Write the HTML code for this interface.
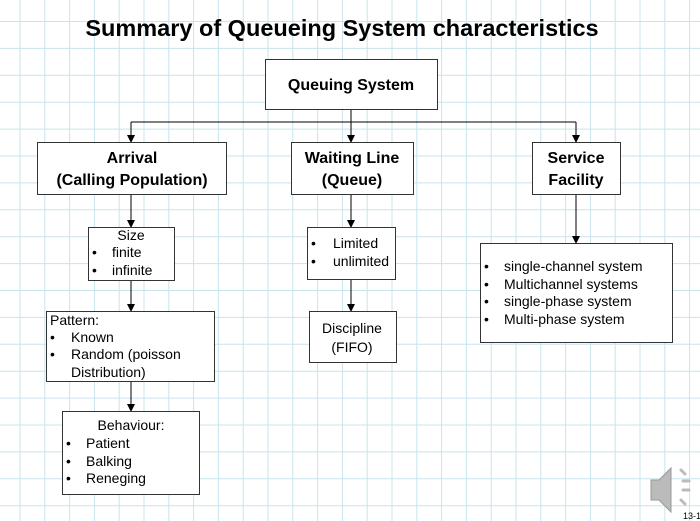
<!DOCTYPE html>
<html><head><meta charset="utf-8"><style>
html,body{margin:0;padding:0;background:#fff}
svg{display:block}
text{font-family:"Liberation Sans",Arial,sans-serif;fill:#000}
</style></head><body>
<svg width="700" height="521" viewBox="0 0 700 521">
<defs><marker id="ah" markerWidth="8" markerHeight="8" refX="7" refY="4" orient="auto" markerUnits="userSpaceOnUse"><path d="M0,0 L8,4 L0,8z" fill="#000"/></marker></defs>
<g id="grid" stroke="#c8e4ee" stroke-width="1"></g>
<text x="342" y="36" font-size="23.5" font-weight="bold" text-anchor="middle">Summary of Queueing System characteristics</text>
<g fill="none" stroke="#000" stroke-width="1">
<line x1="351" y1="109" x2="351" y2="122"/>
<line x1="131" y1="122" x2="576" y2="122"/>
<line x1="131" y1="122" x2="131" y2="142" marker-end="url(#ah)"/>
<line x1="351" y1="122" x2="351" y2="142" marker-end="url(#ah)"/>
<line x1="576" y1="122" x2="576" y2="142" marker-end="url(#ah)"/>
<line x1="131" y1="194" x2="131" y2="227" marker-end="url(#ah)"/>
<line x1="351" y1="194" x2="351" y2="227" marker-end="url(#ah)"/>
<line x1="576" y1="194" x2="576" y2="243" marker-end="url(#ah)"/>
<line x1="131" y1="280" x2="131" y2="311" marker-end="url(#ah)"/>
<line x1="351" y1="279" x2="351" y2="311" marker-end="url(#ah)"/>
<line x1="131" y1="381" x2="131" y2="411" marker-end="url(#ah)"/>
</g>
<g fill="#fff" stroke="#333" stroke-width="1">
<rect x="265.5" y="59.5" width="172" height="50"/>
<rect x="37.5" y="142.5" width="189" height="52"/>
<rect x="291.5" y="142.5" width="122" height="52"/>
<rect x="532.5" y="142.5" width="88" height="52"/>
<rect x="88.5" y="227.5" width="86" height="53"/>
<rect x="307.5" y="227.5" width="88" height="52"/>
<rect x="480.5" y="243.5" width="192" height="99"/>
<rect x="46.5" y="311.5" width="168" height="70"/>
<rect x="309.5" y="311.5" width="87" height="51"/>
<rect x="62.5" y="411.5" width="137" height="83"/>
</g>
<g font-size="16" font-weight="bold" text-anchor="middle">
<text x="132" y="163">Arrival</text>
<text x="132" y="185">(Calling Population)</text>
<text x="351" y="90">Queuing System</text>
<text x="352" y="163">Waiting Line</text>
<text x="352" y="185">(Queue)</text>
<text x="576" y="163">Service</text>
<text x="576" y="185">Facility</text>
</g>
<g font-size="14">
<text x="131" y="240" text-anchor="middle">Size</text>
<text x="92" y="257">•</text><text x="112" y="257">finite</text>
<text x="92" y="275">•</text><text x="112" y="275">infinite</text>
<text x="311" y="248">•</text><text x="333" y="248">Limited</text>
<text x="311" y="266">•</text><text x="333" y="266">unlimited</text>
<text x="484" y="271">•</text><text x="504" y="271">single-channel system</text>
<text x="484" y="289">•</text><text x="504" y="289">Multichannel systems</text>
<text x="484" y="306">•</text><text x="504" y="306">single-phase system</text>
<text x="484" y="324">•</text><text x="504" y="324">Multi-phase system</text>
<text x="50" y="325">Pattern:</text>
<text x="50" y="342">•</text><text x="71" y="342">Known</text>
<text x="50" y="359">•</text><text x="71" y="359">Random (poisson</text>
<text x="71" y="377">Distribution)</text>
<text x="352" y="333" text-anchor="middle">Discipline</text>
<text x="352" y="352" text-anchor="middle">(FIFO)</text>
<text x="131" y="430" text-anchor="middle">Behaviour:</text>
<text x="66" y="448">•</text><text x="86" y="448">Patient</text>
<text x="66" y="466">•</text><text x="86" y="466">Balking</text>
<text x="66" y="483">•</text><text x="86" y="483">Reneging</text>
</g>
<g>
<path d="M651,480 h8 l12,-12 v44 l-12,-12 h-8z" fill="#bbb" stroke="#999"/>
<g stroke="#bbb" stroke-width="3" stroke-linecap="round"><line x1="681" y1="470" x2="685" y2="474"/><line x1="683" y1="481" x2="689" y2="481"/><line x1="683" y1="490" x2="689" y2="490"/><line x1="681" y1="500" x2="685" y2="504"/></g>
</g>
<text x="683" y="519" font-size="9">13-1</text>
<script>
var g=document.getElementById('grid');
for(var x=20;x<700;x+=24.8){var l=document.createElementNS('http://www.w3.org/2000/svg','line');l.setAttribute('x1',x);l.setAttribute('x2',x);l.setAttribute('y1',0);l.setAttribute('y2',521);g.appendChild(l);}
for(var y=21.5;y<521;y+=26.9){var l=document.createElementNS('http://www.w3.org/2000/svg','line');l.setAttribute('y1',y);l.setAttribute('y2',y);l.setAttribute('x1',0);l.setAttribute('x2',700);g.appendChild(l);}
</script>
</svg>
</body></html>
